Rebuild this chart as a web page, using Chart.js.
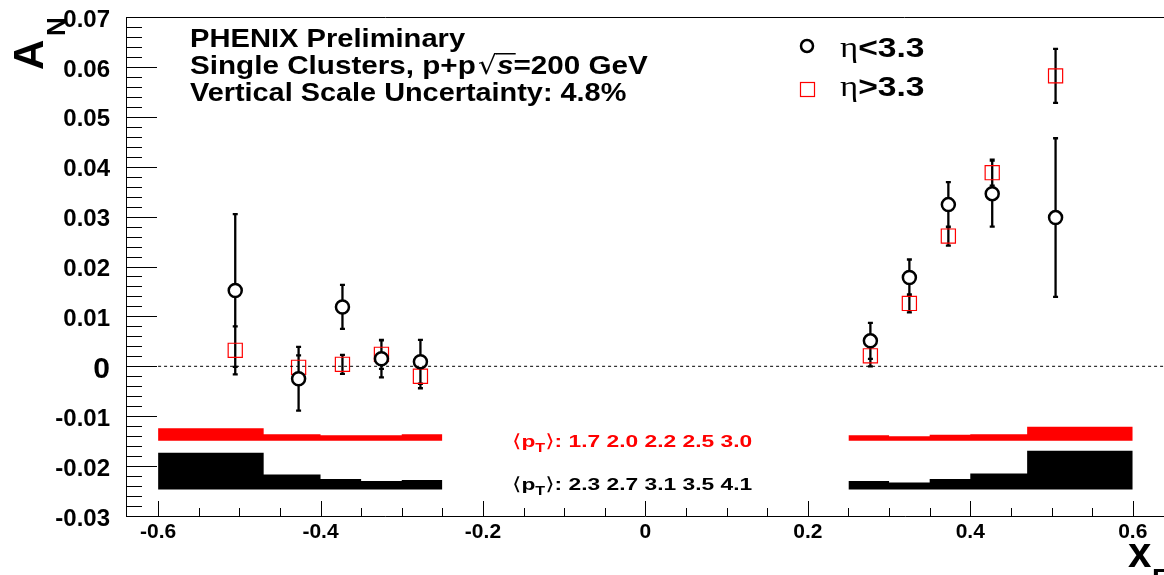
<!DOCTYPE html>
<html>
<head>
<meta charset="utf-8">
<script src="https://cdn.jsdelivr.net/npm/chart.js@4.4.0/dist/chart.umd.min.js"></script>
<style>
html, body { margin: 0; padding: 0; background: #fff; }
#wrap { width: 1164px; height: 575px; }
</style>
</head>
<body>
<div id="wrap"><canvas id="c" width="1164" height="575"></canvas></div>
<script>
// x_F of the measured points
const xF = [-0.505, -0.427, -0.373, -0.325, -0.277, 0.277, 0.325, 0.373, 0.427, 0.505];
// eta < 3.3 (open black circles)
const anLow = [0.0152, -0.0025, 0.0119, 0.0015, 0.0009, 0.0051, 0.0178, 0.0324, 0.0346, 0.0298];
const errLow = [0.0153, 0.0064, 0.0044, 0.0037, 0.0044, 0.0036, 0.0036, 0.0045, 0.0066, 0.0159];
// eta > 3.3 (open red squares)
const anHigh = [0.0032, -0.0002, 0.0004, 0.0024, -0.0020, 0.0021, 0.0126, 0.0261, 0.0388, 0.0582];
const errHigh = [0.0048, 0.0024, 0.0019, 0.0029, 0.0024, 0.0021, 0.0018, 0.0019, 0.0026, 0.0054];

// <pT> bands (bin edges, band base and bin tops)
const binEdgesNeg = [-0.6, -0.47, -0.4, -0.35, -0.3, -0.25];
const binEdgesPos = [0.25, 0.3, 0.35, 0.4, 0.47, 0.6];
const redBase = -0.0149;
const redTopNeg = [-0.0124, -0.0136, -0.0138, -0.0138, -0.0136];
const redTopPos = [-0.0138, -0.0140, -0.0137, -0.0136, -0.0121];
const blackBase = -0.0247;
const blackTopNeg = [-0.0173, -0.0217, -0.0226, -0.0230, -0.0228];
const blackTopPos = [-0.0230, -0.0233, -0.0226, -0.0215, -0.0169];
const ptRed = ['1.7', '2.0', '2.2', '2.5', '3.0'];
const ptBlack = ['2.3', '2.7', '3.1', '3.5', '4.1'];

// axis ticks
const xTicks = [-0.6, -0.4, -0.2, 0, 0.2, 0.4, 0.6];
const yTicks = [-0.03, -0.02, -0.01, 0, 0.01, 0.02, 0.03, 0.04, 0.05, 0.06, 0.07];
const zeroLine = [-0.6, 0.639];

const SANS = '"Liberation Sans", Arial, sans-serif';
const SERIF = '"Liberation Serif", "Times New Roman", serif';
const SYM = '"DejaVu Sans", sans-serif';

// histogram outline: each bin gives a point at both of its edges
function steps(edges, tops) {
    const pts = [];
    tops.forEach((t, i) => {
        pts.push({ x: edges[i], y: t });
        pts.push({ x: edges[i + 1], y: t });
    });
    return pts;
}

function band(edges, tops, base, color) {
    return {
        data: steps(edges, tops),
        fill: { value: base },
        backgroundColor: color,
        borderColor: 'rgba(0,0,0,0)',
        borderWidth: 0,
        pointRadius: 0,
        tension: 0
    };
}

// draw a run of text pieces, stretched horizontally like the original
function rich(ctx, x, y, sx, parts) {
    ctx.save();
    ctx.translate(x, y);
    ctx.scale(sx, 1);
    let px = 0;
    parts.forEach(p => {
        ctx.font = p.font;
        ctx.fillText(p.t, px, p.dy || 0);
        const w = ctx.measureText(p.t).width;
        if (p.over) ctx.fillRect(px - 1, -21, w + 3, 1.5);
        px += w + (p.gap || 0);
    });
    ctx.restore();
}

// error bars, inward ticks, frame and texts
const extras = {
    id: 'extras',
    beforeDatasetsDraw(chart) {
        const { ctx, chartArea: a, scales: { x, y } } = chart;
        ctx.save();
        ctx.strokeStyle = '#000';
        ctx.lineWidth = 1;
        ctx.beginPath();
        // top frame
        ctx.moveTo(a.left, a.top + 0.5);
        ctx.lineTo(a.right, a.top + 0.5);
        // y ticks pointing into the plot
        for (let k = -30; k <= 70; k += 2) {
            const py = Math.round(y.getPixelForValue(k / 1000)) + 0.5;
            ctx.moveTo(a.left, py);
            ctx.lineTo(a.left + (k % 10 === 0 ? 31 : 16), py);
        }
        // x ticks pointing into the plot
        for (let k = -12; k <= 12; k++) {
            const px = Math.round(x.getPixelForValue(k * 0.05)) + 0.5;
            ctx.moveTo(px, a.bottom);
            ctx.lineTo(px, a.bottom - (k % 4 === 0 ? 15 : 8));
        }
        ctx.stroke();

        // error bars
        ctx.lineWidth = 2.3;
        ctx.beginPath();
        const bars = (vals, errs) => {
            xF.forEach((xv, i) => {
                const px = x.getPixelForValue(xv);
                const y1 = y.getPixelForValue(vals[i] + errs[i]);
                const y2 = y.getPixelForValue(vals[i] - errs[i]);
                ctx.moveTo(px, y1);
                ctx.lineTo(px, y2);
                ctx.moveTo(px - 2.5, y1);
                ctx.lineTo(px + 2.5, y1);
                ctx.moveTo(px - 2.5, y2);
                ctx.lineTo(px + 2.5, y2);
            });
        };
        bars(anLow, errLow);
        bars(anHigh, errHigh);
        ctx.stroke();
        ctx.restore();
    },
    afterDraw(chart) {
        const { ctx } = chart;
        ctx.save();
        ctx.fillStyle = '#000';
        ctx.textBaseline = 'alphabetic';
        ctx.textAlign = 'left';

        // header
        const hf = 'bold 26px ' + SANS;
        rich(ctx, 190, 47, 1.12, [{ t: 'PHENIX Preliminary', font: hf }]);
        rich(ctx, 190, 74, 1.14, [
            { t: 'Single Clusters, p+p', font: hf, gap: 2 },
            { t: '\u221A', font: '26px ' + SYM },
            { t: 's', font: 'italic bold 26px ' + SANS, over: true },
            { t: '=200 GeV', font: hf }
        ]);
        rich(ctx, 190, 101, 1.11, [{ t: 'Vertical Scale Uncertainty: 4.8%', font: hf }]);

        // legend
        ctx.lineWidth = 2.5;
        ctx.strokeStyle = '#000';
        ctx.beginPath();
        ctx.arc(807, 46, 6, 0, Math.PI * 2);
        ctx.stroke();
        ctx.lineWidth = 1.2;
        ctx.strokeStyle = '#f00';
        ctx.strokeRect(800.5, 82.5, 14, 14);
        rich(ctx, 840, 57, 1.2, [
            { t: '\u03B7', font: '29px ' + SERIF },
            { t: '<3.3', font: 'bold 28px ' + SANS }
        ]);
        rich(ctx, 840, 96, 1.2, [
            { t: '\u03B7', font: '29px ' + SERIF },
            { t: '>3.3', font: 'bold 28px ' + SANS }
        ]);

        // <pT> labels
        const ptParts = vals => [
            { t: '\u27E8', font: '18px ' + SYM },
            { t: 'p', font: 'bold 17px ' + SANS },
            { t: 'T', font: 'bold 12px ' + SANS, dy: 5 },
            { t: '\u27E9', font: '18px ' + SYM },
            { t: ': ' + vals.join(' '), font: 'bold 17px ' + SANS }
        ];
        ctx.fillStyle = '#f00';
        rich(ctx, 512, 447, 1.34, ptParts(ptRed));
        ctx.fillStyle = '#000';
        rich(ctx, 512, 490, 1.34, ptParts(ptBlack));

        // axis titles
        ctx.save();
        ctx.translate(43, 70);
        ctx.rotate(-Math.PI / 2);
        ctx.font = 'bold 42px ' + SANS;
        ctx.fillText('A', 0, 0);
        ctx.font = 'bold 26px ' + SANS;
        ctx.fillText('N', 34, 22);
        ctx.restore();
        ctx.font = 'bold 42px ' + SANS;
        ctx.fillText('x', 1128, 567);
        ctx.font = 'bold 28px ' + SANS;
        ctx.fillText('F', 1152, 588);
        ctx.restore();
    }
};

const chart = new Chart(document.getElementById('c').getContext('2d'), {
    type: 'line',
    data: {
        datasets: [
            band(binEdgesNeg, redTopNeg, redBase, '#ff0000'),
            band(binEdgesPos, redTopPos, redBase, '#ff0000'),
            band(binEdgesNeg, blackTopNeg, blackBase, '#000000'),
            band(binEdgesPos, blackTopPos, blackBase, '#000000'),
            {
                data: zeroLine.map(v => ({ x: v, y: 0 })),
                borderColor: '#000',
                borderWidth: 1,
                borderDash: [3, 3],
                pointRadius: 0,
                fill: false
            },
            {
                label: '\u03B7<3.3',
                data: xF.map((v, i) => ({ x: v, y: anLow[i] })),
                showLine: false,
                pointStyle: 'circle',
                pointRadius: 6.5,
                pointBorderWidth: 2.5,
                pointBorderColor: '#000',
                pointBackgroundColor: '#fff'
            },
            {
                label: '\u03B7>3.3',
                data: xF.map((v, i) => ({ x: v, y: anHigh[i] })),
                showLine: false,
                pointStyle: 'rect',
                pointRadius: 10,
                pointBorderWidth: 1.2,
                pointBorderColor: '#f00',
                pointBackgroundColor: 'rgba(0,0,0,0)'
            }
        ]
    },
    options: {
        responsive: false,
        animation: false,
        layout: { autoPadding: false, padding: { top: 17, left: 0, right: 0, bottom: 0 } },
        plugins: {
            legend: { display: false },
            tooltip: { enabled: false }
        },
        scales: {
            x: {
                type: 'linear',
                min: -0.6395,
                max: 0.6385,
                afterBuildTicks: s => { s.ticks = xTicks.map(v => ({ value: v })); },
                afterFit: s => { s.height = 59; s.paddingLeft = 0; s.paddingRight = 0; },
                grid: { display: false },
                border: { color: '#000', width: 1 },
                ticks: {
                    color: '#000',
                    font: { family: SANS, weight: 'bold', size: 21 },
                    padding: -4,
                    maxRotation: 0,
                    callback: v => String(+v.toFixed(1))
                }
            },
            y: {
                min: -0.03,
                max: 0.07,
                afterBuildTicks: s => { s.ticks = yTicks.map(v => ({ value: v })); },
                afterFit: s => { s.width = 126; s.paddingTop = 0; s.paddingBottom = 0; },
                grid: { display: false },
                border: { color: '#000', width: 1 },
                ticks: {
                    color: '#000',
                    font: c => ({ family: SANS, weight: 'bold', size: c.tick && c.tick.value === 0 ? 30 : 24 }),
                    padding: 8,
                    labelOffset: 3,
                    callback: v => String(+v.toFixed(2))
                }
            }
        }
    },
    plugins: [extras]
});
</script>
</body>
</html>
